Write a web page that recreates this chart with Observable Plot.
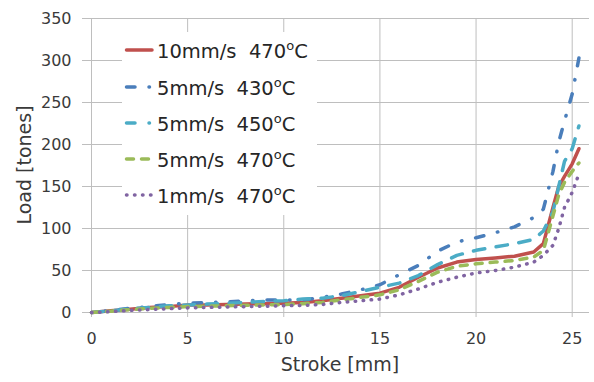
<!DOCTYPE html>
<html>
<head>
<meta charset="utf-8">
<script src="https://cdn.jsdelivr.net/npm/d3@7"></script>
<script src="https://cdn.jsdelivr.net/npm/@observablehq/plot@0.6"></script>
<style>
  html, body { margin: 0; padding: 0; background: #fff; }
</style>
</head>
<body>
<div id="chart"></div>
<script>
// Stroke positions [mm] shared by all series
const stroke = [0, 1, 2, 3, 4, 5, 6, 7, 8, 9, 10, 11, 12, 13, 14, 15, 16, 17, 18, 19, 20, 21, 22, 23, 23.5, 24, 24.3, 24.6, 25, 25.35];

// Load [tones] per series
const red10_470  = [0, 2, 4, 6, 7, 9, 9, 9.5, 10, 10.5, 11, 12, 14, 17, 20, 23, 30, 42, 53, 60, 63, 65, 67, 72, 82, 125, 150, 162, 177, 195];
const blue5_430  = [0, 2.5, 5, 7, 9.5, 11, 12, 12.5, 14, 15, 15, 15, 18, 22, 27, 33, 45, 56, 73, 84, 89, 95, 102, 113, 123, 168, 203, 228, 260, 303];
const cyan5_450  = [0, 2, 4.5, 6, 8, 9, 10, 11, 12, 13, 14, 16, 17, 20, 25, 30, 35, 44, 57, 68, 74, 78, 82, 87, 97, 120, 150, 180, 195, 222];
const green5_470 = [0, 1.5, 3.5, 5, 6, 7, 7.5, 8, 8.5, 9, 9.5, 10.5, 12, 15, 18, 21, 27, 37, 48, 55, 58, 60, 62, 66, 74, 115, 140, 155, 168, 178];
const purple1_470= [0, 1, 2.5, 3.5, 4.5, 5.5, 6, 6.5, 7, 7.5, 8, 8.5, 9.5, 12, 14, 16, 21, 28, 36, 42, 47, 50, 54, 60, 68, 80, 100, 125, 143, 165];

const seriesNames = ["10mm/s  470", "5mm/s  430", "5mm/s  450", "5mm/s  470", "1mm/s  470"];
const seriesValues = [red10_470, blue5_430, cyan5_450, green5_470, purple1_470];
const seriesColors = ["#C0504D", "#4A7EBB", "#4BACC6", "#9BBB59", "#8064A2"];
const seriesDash = [null, "8.5,14,0.5,14", "11.5,11.5", "7,8", "0.5,7.5"];
const legendDash = [null, "8.5,14,0.5,14", "8.5,14,0.5,14", "7,8", "0.5,7.5"];

const xTicks = [0, 5, 10, 15, 20, 25];
const yTicks = [0, 50, 100, 150, 200, 250, 300, 350];

const rows = seriesNames.map((name, i) =>
  stroke.map((s, j) => ({series: name, x: s, y: seriesValues[i][j]}))
);

const gridColor = "#BEBEBE";

const chart = Plot.plot({
  width: 594,
  height: 382,
  marginLeft: 91,
  marginRight: 5,
  marginTop: 18,
  marginBottom: 70,
  style: {fontFamily: "DejaVu Sans", fontSize: "16px", color: "#3a3a3a", background: "#fff"},
  x: {domain: [0, 25.9], ticks: xTicks},
  y: {domain: [0, 350], ticks: yTicks},
  marks: [
    Plot.gridX(xTicks, {stroke: gridColor, strokeOpacity: 1, strokeWidth: 1}),
    Plot.gridY(yTicks, {stroke: gridColor, strokeOpacity: 1, strokeWidth: 1}),
    Plot.axisX(xTicks, {tickSize: 5, tickPadding: 15, stroke: gridColor, label: null, fontSize: 16}),
    Plot.axisY(yTicks, {tickSize: 9, tickPadding: 11, stroke: gridColor, label: null, fontSize: 16}),
    ...rows.map((r, i) => Plot.line(r, {
      x: "x", y: "y",
      stroke: seriesColors[i],
      strokeWidth: 3.5,
      strokeDasharray: seriesDash[i] ?? undefined,
      strokeLinecap: "round",
      strokeLinejoin: "round",
      curve: "linear"
    }))
  ]
});

document.getElementById("chart").appendChild(chart);

const svg = d3.select(chart);

// Make the blue dash-dot line end on a dash (as in the reference)
try {
  svg.selectAll("g[aria-label='line']").each(function() {
    if (this.getAttribute("stroke") === seriesColors[1]) {
      d3.select(this).selectAll("path").each(function() {
        const L = this.getTotalLength();
        const period = 37;
        const off = ((8 - L) % period + period) % period;
        this.setAttribute("stroke-dashoffset", off);
      });
    }
  });
} catch (e) {}

// Axis titles
svg.append("text")
  .attr("x", 340).attr("y", 371)
  .attr("text-anchor", "middle")
  .attr("font-family", "DejaVu Sans")
  .attr("font-size", 19)
  .attr("fill", "#3a3a3a")
  .text("Stroke [mm]");

svg.append("text")
  .attr("transform", "translate(31,165) rotate(-90)")
  .attr("text-anchor", "middle")
  .attr("font-family", "DejaVu Sans")
  .attr("font-size", 19)
  .attr("fill", "#3a3a3a")
  .text("Load [tones]");

// Legend
const lg = svg.append("g").attr("text-anchor", "start");
lg.append("rect")
  .attr("x", 122).attr("y", 32).attr("width", 195).attr("height", 183)
  .attr("fill", "#fff");
const baselines = [58, 95, 131, 167, 203];
seriesNames.forEach((name, i) => {
  const by = baselines[i];
  lg.append("line")
    .attr("x1", 126.5).attr("x2", 152)
    .attr("y1", by - 8).attr("y2", by - 8)
    .attr("stroke", seriesColors[i])
    .attr("stroke-width", 3.5)
    .attr("stroke-linecap", "round")
    .attr("stroke-dasharray", legendDash[i]);
  const t = lg.append("text")
    .attr("x", 157).attr("y", by)
    .attr("text-anchor", "start")
    .attr("font-family", "DejaVu Sans")
    .attr("font-size", 19.5)
    .attr("fill", "#262626")
    .style("white-space", "pre");
  t.append("tspan").text(name);
  t.append("tspan").attr("font-size", 13).attr("dy", -8).text("o");
  t.append("tspan").attr("dy", 8).text("C");
});
</script>
</body>
</html>
